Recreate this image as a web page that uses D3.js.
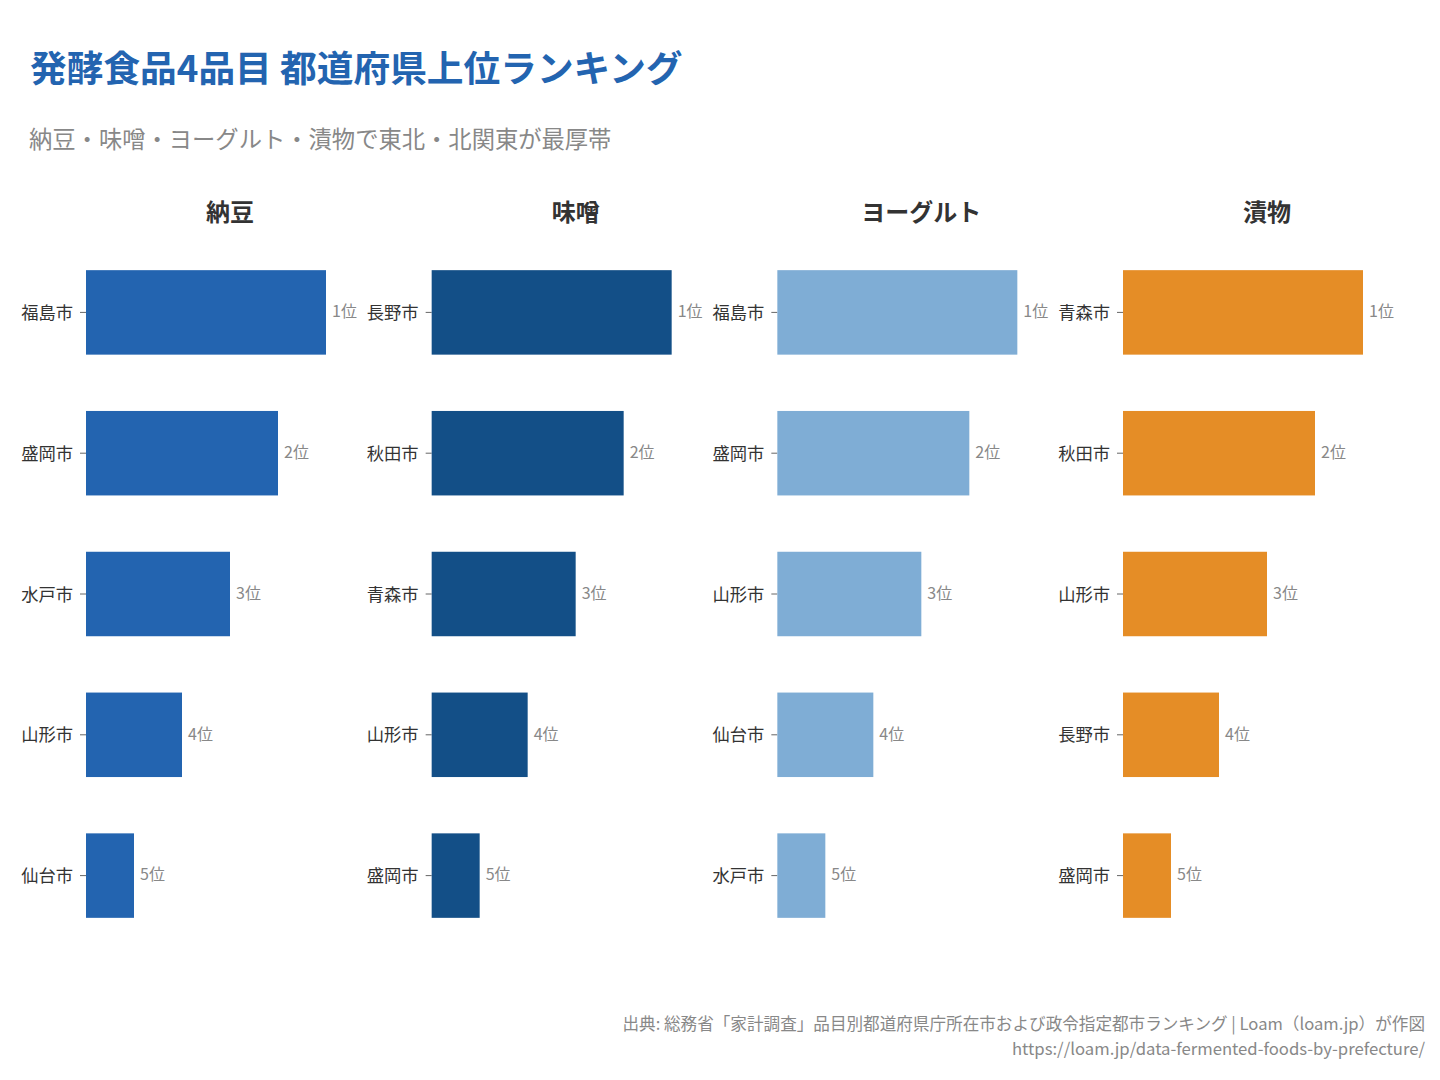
<!DOCTYPE html>
<html><head><meta charset="utf-8">
<script src="https://cdn.jsdelivr.net/npm/d3@7"></script>
<style>
body{margin:0;background:#fff;}
text{font-family:"Noto Sans CJK JP","Noto Sans",sans-serif;}
</style></head>
<body>
<svg id="c" width="1440" height="1080"></svg>
<script>
const categories = ["納豆","味噌","ヨーグルト","漬物"];
const ranks = [1,2,3,4,5];
const rankLabels = ["1位","2位","3位","4位","5位"];
const nattoCities = ["福島市","盛岡市","水戸市","山形市","仙台市"];
const misoCities = ["長野市","秋田市","青森市","山形市","盛岡市"];
const yogurtCities = ["福島市","盛岡市","山形市","仙台市","水戸市"];
const tsukemonoCities = ["青森市","秋田市","山形市","長野市","盛岡市"];
const scores = [5,4,3,2,1]; // bar length = 6 - rank
const colors = ["#2364b0","#134f87","#7fadd5","#e58d26"];

const panels = [nattoCities, misoCities, yogurtCities, tsukemonoCities];
const svg = d3.select("#c");

svg.append("text").attr("x",30).attr("y",82)
  .attr("font-size",36.7).attr("font-weight",700).attr("fill","#2364b0")
  .text("発酵食品4品目 都道府県上位ランキング");
svg.append("text").attr("x",29).attr("y",148)
  .attr("font-size",23.3).attr("fill","#888")
  .text("納豆・味噌・ヨーグルト・漬物で東北・北関東が最厚帯");

const x = d3.scaleLinear().domain([0,5]).range([0,240]);
const y = d3.scaleBand().domain(ranks).range([242,946]).paddingInner(0.4).paddingOuter(0.2);
const px = d3.scaleLinear().domain([0,3]).range([86,1123]);

panels.forEach((cities,i)=>{
  const g = svg.append("g").attr("transform",`translate(${px(i)},0)`);
  g.append("text").attr("x",144).attr("y",221).attr("text-anchor","middle")
    .attr("font-size",24).attr("font-weight",700).attr("fill","#333")
    .text(categories[i]);
  const yy = d3.scaleBand().domain(cities).range(y.range()).paddingInner(0.4).paddingOuter(0.2);
  const ax = g.append("g").call(d3.axisLeft(yy).tickSize(6).tickPadding(7));
  ax.select(".domain").remove();
  ax.selectAll(".tick line").attr("stroke","#666");
  ax.selectAll(".tick text").attr("font-size",17.3).attr("fill","#333").attr("dy","0.38em")
    .attr("font-family",'"Noto Sans CJK JP",sans-serif');
  cities.forEach((c,j)=>{
    g.append("rect").attr("x",x(0)).attr("y",yy(c)).attr("width",x(scores[j]))
      .attr("height",yy.bandwidth()).attr("fill",colors[i]);
    g.append("text").attr("x",x(scores[j])+6).attr("y",yy(c)+yy.bandwidth()/2)
      .attr("dy","0.3em").attr("font-size",16).attr("fill","#888")
      .text(rankLabels[j]);
  });
});

svg.append("text").attr("x",1425).attr("y",1030).attr("text-anchor","end")
  .attr("font-size",16.6).attr("fill","#888")
  .text("出典: 総務省「家計調査」品目別都道府県庁所在市および政令指定都市ランキング | Loam（loam.jp）が作図");
svg.append("text").attr("x",1425).attr("y",1055).attr("text-anchor","end")
  .attr("font-size",16.7).attr("fill","#888")
  .text("https://loam.jp/data-fermented-foods-by-prefecture/");
</script>
</body></html>
